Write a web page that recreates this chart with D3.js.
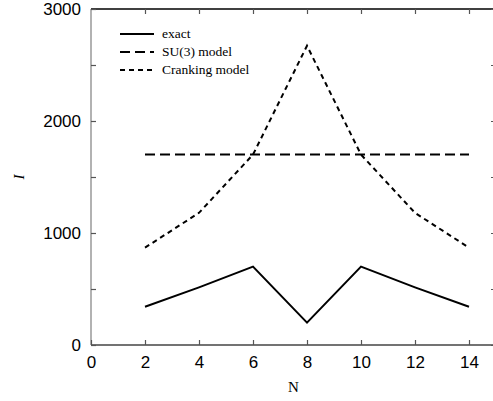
<!DOCTYPE html>
<html>
<head>
<meta charset="utf-8">
<script src="https://cdn.jsdelivr.net/npm/d3@7"></script>
<style>
    body { margin: 0; background: #fff; }
    svg { display: block; }
</style>
</head>
<body>
<svg id="chart" width="493" height="401"></svg>
<script>
/*global d3*/

// N values and the three curves
var nValues = [2, 4, 6, 8, 10, 12, 14];
var exactValues = [342, 515, 700, 200, 700, 515, 342];
var su3Values = [1700, 1700, 1700, 1700, 1700, 1700, 1700];
var crankingValues = [869, 1180, 1700, 2672, 1700, 1180, 869];

var xTicks = [0, 2, 4, 6, 8, 10, 12, 14];
var yTicks = [0, 1000, 2000, 3000];
var yMinorTicks = [500, 1500, 2500];

var seriesList = [
    { name: "exact", values: exactValues, dash: null },
    { name: "SU(3) model", values: su3Values, dash: "10,5" },
    { name: "Cranking model", values: crankingValues, dash: "5,4" }
];

(function () {
    "use strict";

    var svg = d3.select("#chart"),
        left = 91,
        right = 496,
        top = 9,
        bottom = 345;

    var x = d3.scaleLinear().domain([0, 15]).range([left, right]);
    var y = d3.scaleLinear().domain([0, 3000]).range([bottom, top]);

    // frame: left is grey, bottom dark grey, top black
    svg.append("line")
        .attr("x1", left).attr("x2", left)
        .attr("y1", top).attr("y2", bottom)
        .attr("stroke", "#999").attr("stroke-width", 1.5);
    svg.append("line")
        .attr("x1", left).attr("x2", right)
        .attr("y1", bottom).attr("y2", bottom)
        .attr("stroke", "#444").attr("stroke-width", 1.5);
    svg.append("line")
        .attr("x1", left).attr("x2", right)
        .attr("y1", top).attr("y2", top)
        .attr("stroke", "#000").attr("stroke-width", 1.5);
    svg.append("line")
        .attr("x1", right).attr("x2", right)
        .attr("y1", top).attr("y2", bottom)
        .attr("stroke", "#444").attr("stroke-width", 1.5);

    // axes with inward ticks
    var xAxis = d3.axisBottom(x).tickValues(xTicks).tickSize(-5).tickPadding(11)
        .tickFormat(d3.format("d"));
    var gx = svg.append("g").attr("transform", "translate(0," + bottom + ")").call(xAxis);
    gx.select(".domain").remove();

    var xTop = d3.axisTop(x).tickValues(xTicks.slice(1)).tickSize(-5).tickFormat("");
    var gxt = svg.append("g").attr("transform", "translate(0," + top + ")").call(xTop);
    gxt.select(".domain").remove();

    var yAxis = d3.axisLeft(y).tickValues(yTicks).tickSize(-5).tickPadding(10)
        .tickFormat(d3.format("d"));
    var gy = svg.append("g").attr("transform", "translate(" + left + ",0)").call(yAxis);
    gy.select(".domain").remove();

    var yMinor = d3.axisLeft(y).tickValues(yMinorTicks).tickSize(-5).tickFormat("");
    var gym = svg.append("g").attr("transform", "translate(" + left + ",0)").call(yMinor);
    gym.select(".domain").remove();

    var yRight = d3.axisRight(y).tickValues(yTicks.concat(yMinorTicks)).tickSize(-5).tickFormat("");
    var gyr = svg.append("g").attr("transform", "translate(" + right + ",0)").call(yRight);
    gyr.select(".domain").remove();

    svg.selectAll(".tick line").attr("stroke", "#555").attr("stroke-width", 1.2);
    svg.selectAll(".tick text")
        .attr("fill", "#000")
        .style("font-family", "'Liberation Sans', Arial, sans-serif")
        .style("font-size", "17px");

    // curves
    var line = d3.line()
        .x(function (d, i) { return x(nValues[i]); })
        .y(function (d) { return y(d); });

    seriesList.forEach(function (s) {
        svg.append("path")
            .datum(s.values)
            .attr("d", line)
            .attr("fill", "none")
            .attr("stroke", "#000")
            .attr("stroke-width", 2)
            .attr("stroke-dasharray", s.dash);
    });

    // legend
    var legend = svg.append("g");
    seriesList.forEach(function (s, i) {
        var ly = 34 + i * 18;
        legend.append("line")
            .attr("x1", 120).attr("x2", 154)
            .attr("y1", ly).attr("y2", ly)
            .attr("stroke", "#000")
            .attr("stroke-width", 2)
            .attr("stroke-dasharray", s.dash);
        legend.append("text")
            .attr("x", 162).attr("y", ly + 4)
            .style("font-family", "'Liberation Serif', 'Times New Roman', serif")
            .style("font-size", "13.5px")
            .text(s.name);
    });

    // axis titles
    svg.append("text")
        .attr("x", x(7.5)).attr("y", 392)
        .attr("text-anchor", "middle")
        .style("font-family", "'Liberation Serif', 'Times New Roman', serif")
        .style("font-size", "15px")
        .text("N");

    svg.append("text")
        .attr("transform", "translate(24,177) rotate(-90)")
        .attr("text-anchor", "middle")
        .style("font-family", "'Liberation Serif', 'Times New Roman', serif")
        .style("font-style", "italic")
        .style("font-size", "15px")
        .text("I");
}());
</script>
</body>
</html>
